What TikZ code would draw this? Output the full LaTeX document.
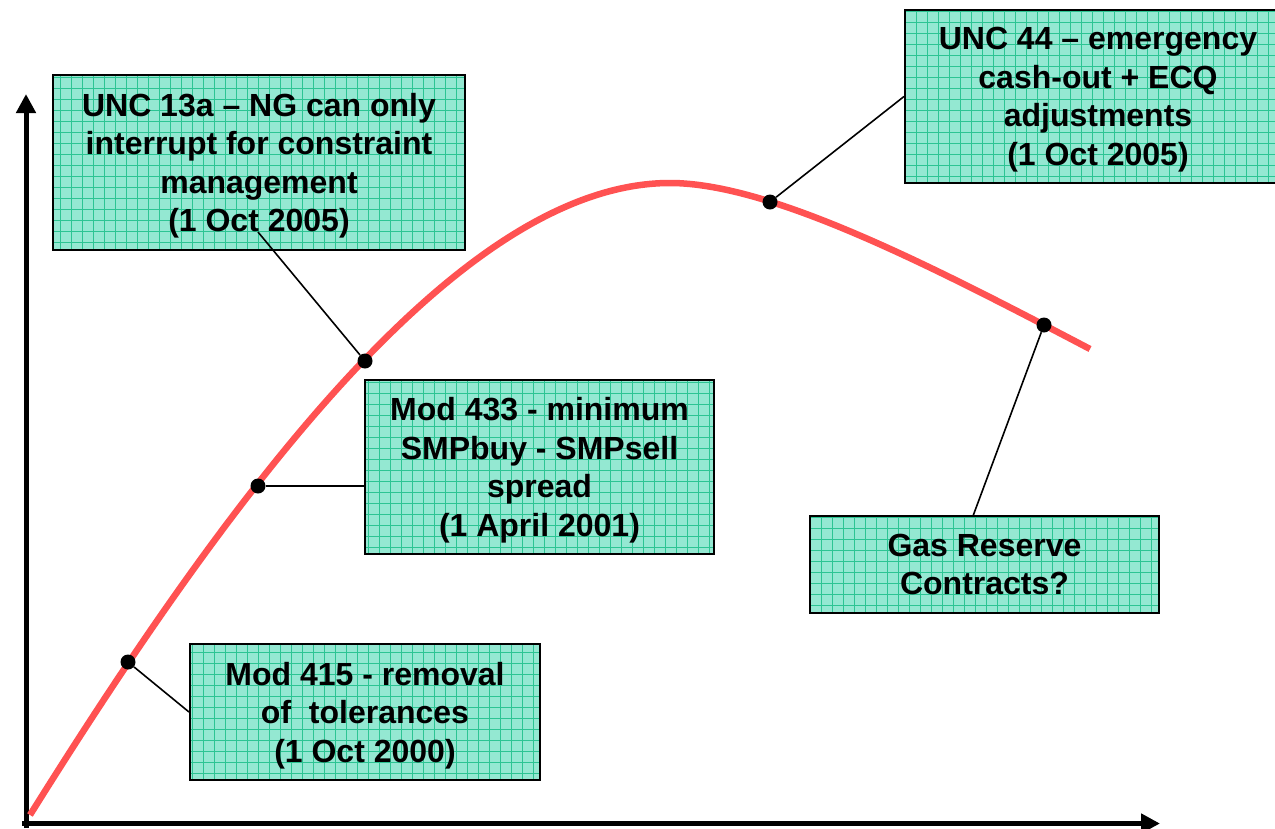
\documentclass[tikz,border=0pt]{standalone}
\usepackage{fontspec}
\setmainfont{Liberation Sans}
\usetikzlibrary{arrows.meta}

\definecolor{boxfill}{HTML}{94E8D2}
\definecolor{boxgrid}{HTML}{2CC493}
\definecolor{curvered}{HTML}{FF5252}

\tikzset{
    notebox/.style={
        draw=black, line width=2pt, fill=boxfill,
        minimum width=#1, inner sep=0pt, align=center,
        font=\fontsize{32}{38.5}\selectfont\bfseries,
        text depth=-2pt,
        path picture={
            \draw[boxgrid, line width=0.9pt, xstep=11pt, ystep=11pt]
                (path picture bounding box.south west) grid
                (path picture bounding box.north east);
        }
    },
    dot/.style={circle, fill=black, inner sep=0pt, minimum size=15pt},
    axis/.style={line width=5pt, -{Triangle[width=19pt,length=19pt]}},
    link/.style={line width=1.6pt}
}

\begin{document}
\begin{tikzpicture}[x=1pt, y=-1pt]
    \useasboundingbox (0,0) rectangle (1275,828);

    % axes
    \draw[axis] (26,828) -- (26,94);
    \draw[axis] (22,823.5) -- (1160,823.5);

    % curve
    \draw[curvered, line width=6.5pt]
        (30,815) .. controls (230,495) and (460,183) .. (670,183)
                 .. controls (770,183) and (930,265) .. (1090,349);

    % boxes
    \node[notebox=412pt, minimum height=175pt] (unc13) at (259,162.5)
        {UNC 13a -- NG can only\\interrupt for constraint\\management\\(1 Oct 2005)};
    \node[notebox=386pt, minimum height=173pt] (unc44) at (1098,96.5)
        {UNC 44 -- emergency\\cash-out + ECQ\\adjustments\\(1 Oct 2005)};
    \node[notebox=349pt, minimum height=174pt] (mod433) at (539.5,467)
        {Mod 433 - minimum\\SMPbuy - SMPsell\\spread\\(1 April 2001)};
    \node[notebox=349pt, minimum height=97pt] (gasres) at (984.5,564.5)
        {Gas Reserve\\Contracts?};
    \node[notebox=350pt, minimum height=136pt] (mod415) at (365,712)
        {Mod 415 - removal\\of\ \ tolerances\\(1 Oct 2000)};

    % dots
    \node[dot] (d415) at (128,662) {};
    \node[dot] (d433) at (258,486) {};
    \node[dot] (d13) at (365,361) {};
    \node[dot] (d44) at (770,202) {};
    \node[dot] (dgas) at (1044,325) {};

    % links
    \coordinate (c13) at (258,232);
    \coordinate (cgas) at (973,516);
    \draw[link] (d415) -- (mod415.west);
    \draw[link] (d433) -- (d433 -| mod433.west);
    \draw[link] (d13) -- (c13);
    \draw[link] (d44) -- (unc44.west);
    \draw[link] (dgas) -- (cgas);
\end{tikzpicture}
\end{document}
